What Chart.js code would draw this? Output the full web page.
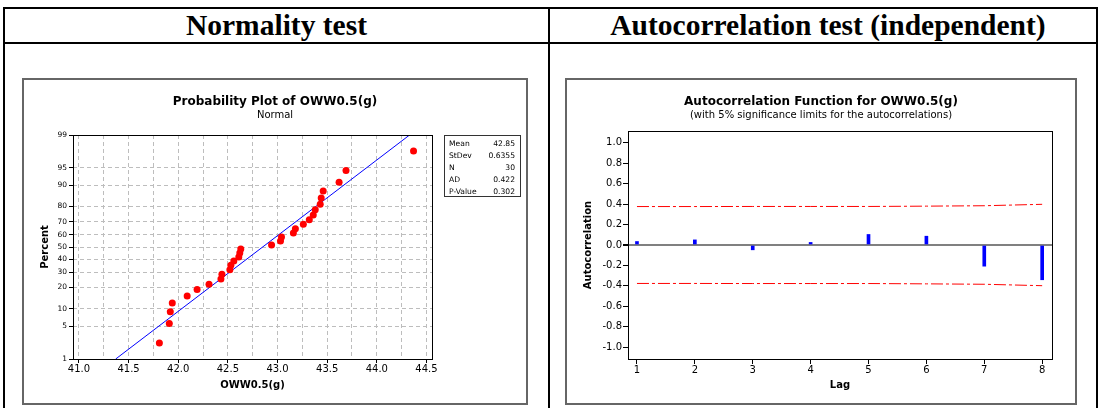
<!DOCTYPE html>
<html>
<head>
<meta charset="utf-8">
<script src="https://cdn.jsdelivr.net/npm/chart.js@4.4.1/dist/chart.umd.min.js"></script>
<style>
  html, body { margin: 0; padding: 0; background: #fff; }
  body { width: 1100px; height: 408px; position: relative; overflow: hidden; font-family: "DejaVu Sans", sans-serif; color: #000; }
  .hline { position: absolute; height: 2px; background: #000; }
  .vline { position: absolute; width: 2px; background: #000; }
  .head { position: absolute; top: 9px; height: 33px; line-height: 33px; text-align: center;
          font-family: "Liberation Serif", serif; font-weight: bold; font-size: 29.5px; }
  .frame { position: absolute; border: 2px solid #666; box-sizing: border-box; pointer-events: none; }
  canvas { position: absolute; }
  .ttl { position: absolute; text-align: center; font-weight: bold; font-size: 12px; line-height: 14px; white-space: nowrap; }
  .sub { position: absolute; text-align: center; font-size: 10px; line-height: 12px; white-space: nowrap; }
  #stats { position: absolute; left: 444px; top: 135px; width: 77px; height: 62px; border: 1px solid #333;
           box-sizing: border-box; font-size: 7.6px; padding: 2px 5px 0 4px; }
  #stats div { display: flex; justify-content: space-between; height: 12px; line-height: 12px; }
</style>
</head>
<body>
<!-- table lines -->
<div class="hline" style="left:3px; top:7px; width:1095px;"></div>
<div class="hline" style="left:3px; top:42px; width:1095px;"></div>
<div class="vline" style="left:3px; top:7px; height:401px;"></div>
<div class="vline" style="left:548px; top:7px; height:401px;"></div>
<div class="vline" style="left:1096px; top:7px; height:401px;"></div>

<div class="head" style="left:5px; width:543px;">Normality test</div>
<div class="head" style="left:550px; width:556px;">Autocorrelation test (independent)</div>

<canvas id="probChart" width="505" height="325" style="left:23px; top:79px;"></canvas>
<canvas id="acfChart" width="510" height="325" style="left:566px; top:79px;"></canvas>

<div class="frame" style="left:22px; top:78px; width:506px; height:327px;"></div>
<div class="frame" style="left:565px; top:78px; width:512px; height:327px;"></div>

<div class="ttl" style="left:22px; width:506px; top:94px;">Probability Plot of OWW0.5(g)</div>
<div class="sub" style="left:22px; width:506px; top:109px;">Normal</div>
<div class="ttl" style="left:565px; width:512px; top:94px;">Autocorrelation Function for OWW0.5(g)</div>
<div class="sub" style="left:565px; width:512px; top:109px;">(with 5% significance limits for the autocorrelations)</div>

<div id="stats"></div>

<script>
// probability plot data (sorted OWW0.5 values and their plotted percents)
const owwValues = [41.81, 41.91, 41.92, 41.94, 42.09, 42.19, 42.31, 42.43, 42.44, 42.52,
                   42.53, 42.56, 42.61, 42.62, 42.63, 42.94, 43.03, 43.04, 43.16, 43.18,
                   43.26, 43.32, 43.36, 43.38, 43.43, 43.44, 43.46, 43.62, 43.69, 44.37];
const percentValues = [2.3, 5.6, 8.9, 12.2, 15.5, 18.8, 22.0, 25.3, 28.6, 31.9,
                       35.2, 38.5, 41.8, 45.1, 48.4, 51.6, 54.9, 58.2, 61.5, 64.8,
                       68.1, 71.4, 74.7, 78.0, 81.3, 84.5, 87.8, 91.1, 94.4, 97.7];
const fitX = [41.37, 44.33];
const fitPercent = [1, 99];
const percentTicks = [1, 5, 10, 20, 30, 40, 50, 60, 70, 80, 90, 95, 99];
const xGridTicks = [41.0, 41.25, 41.5, 41.75, 42.0, 42.25, 42.5, 42.75, 43.0, 43.25, 43.5, 43.75, 44.0, 44.25, 44.5];
const statLabels = ['Mean', 'StDev', 'N', 'AD', 'P-Value'];
const statValues = ['42.85', '0.6355', '30', '0.422', '0.302'];

// autocorrelation data
const lags = [1, 2, 3, 4, 5, 6, 7, 8];
const acfValues = [0.034, 0.05, -0.047, 0.025, 0.103, 0.086, -0.207, -0.34];
const sigLimits = [0.376, 0.376, 0.377, 0.377, 0.377, 0.380, 0.384, 0.398];
const acfTicks = [-1.0, -0.8, -0.6, -0.4, -0.2, 0, 0.2, 0.4, 0.6, 0.8, 1.0];

// inverse normal cdf (Acklam) for the probability axis
function probit(p) {
    const a = [-3.969683028665376e+01, 2.209460984245205e+02, -2.759285104469687e+02, 1.383577518672690e+02, -3.066479806614716e+01, 2.506628277459239e+00];
    const b = [-5.447609879822406e+01, 1.615858368580409e+02, -1.556989798598866e+02, 6.680131188771972e+01, -1.328068155288572e+01];
    const c = [-7.784894002430293e-03, -3.223964580411365e-01, -2.400758277161838e+00, -2.549732539343734e+00, 4.374664141464968e+00, 2.938163982698783e+00];
    const d = [7.784695709041462e-03, 3.224671290700398e-01, 2.445134137142996e+00, 3.754408661907416e+00];
    const pl = 0.02425;
    let q, r;
    if (p < pl) {
        q = Math.sqrt(-2 * Math.log(p));
        return (((((c[0]*q+c[1])*q+c[2])*q+c[3])*q+c[4])*q+c[5]) / ((((d[0]*q+d[1])*q+d[2])*q+d[3])*q+1);
    }
    if (p > 1 - pl) {
        q = Math.sqrt(-2 * Math.log(1 - p));
        return -(((((c[0]*q+c[1])*q+c[2])*q+c[3])*q+c[4])*q+c[5]) / ((((d[0]*q+d[1])*q+d[2])*q+d[3])*q+1);
    }
    q = p - 0.5;
    r = q * q;
    return (((((a[0]*r+a[1])*r+a[2])*r+a[3])*r+a[4])*r+a[5])*q / (((((b[0]*r+b[1])*r+b[2])*r+b[3])*r+b[4])*r+1);
}

// stats box
const statsBox = document.getElementById('stats');
statLabels.forEach((lab, i) => {
    const row = document.createElement('div');
    row.innerHTML = '<span>' + lab + '</span><span>' + statValues[i] + '</span>';
    statsBox.appendChild(row);
});

// black box around the plot area
const plotFrame = {
    id: 'plotFrame',
    afterDraw(chart) {
        const { ctx, chartArea: a } = chart;
        ctx.save();
        ctx.strokeStyle = '#000';
        ctx.lineWidth = 1;
        ctx.strokeRect(Math.round(a.left) + 0.5, Math.round(a.top) + 0.5, Math.round(a.right - a.left), Math.round(a.bottom - a.top));
        ctx.restore();
    }
};

const tickFont = { family: 'DejaVu Sans', size: 10 };
const axisTitleFont = { family: 'DejaVu Sans', size: 10, weight: 'bold' };

new Chart(document.getElementById('probChart'), {
    type: 'scatter',
    data: {
        datasets: [{
            type: 'line',
            data: fitX.map((x, i) => ({ x: x, y: probit(fitPercent[i] / 100) })),
            borderColor: '#0000ff',
            borderWidth: 1,
            pointRadius: 0,
            fill: false,
            order: 2
        }, {
            data: owwValues.map((x, i) => ({ x: x, y: probit(percentValues[i] / 100) })),
            backgroundColor: '#ff0000',
            borderColor: '#ff0000',
            borderWidth: 0,
            pointRadius: 3.5,
            order: 1
        }]
    },
    options: {
        responsive: false,
        animation: false,
        events: [],
        layout: { padding: { top: 56, left: 0, right: 96, bottom: 13 } },
        plugins: { legend: { display: false }, tooltip: { enabled: false } },
        scales: {
            x: {
                type: 'linear',
                min: 40.94,
                max: 44.556,
                afterBuildTicks: s => { s.ticks = xGridTicks.map(v => ({ value: v })); },
                afterFit: s => { s.height = 32; },
                ticks: {
                    autoSkip: false, maxRotation: 0, padding: 0, color: '#000', font: tickFont,
                    callback: v => (Math.abs(v * 2 - Math.round(v * 2)) < 1e-6 ? v.toFixed(1) : '')
                },
                grid: {
                    color: '#bdbdbd', tickLength: 4,
                    tickColor: ctx => (ctx.tick && Math.abs(ctx.tick.value * 2 - Math.round(ctx.tick.value * 2)) < 1e-6 ? '#000' : 'rgba(0,0,0,0)')
                },
                border: { display: false, dash: [4, 3] },
                title: { display: true, text: 'OWW0.5(g)', color: '#000', font: axisTitleFont, padding: { top: 0, bottom: 0 } }
            },
            y: {
                type: 'linear',
                min: probit(0.01),
                max: probit(0.99),
                afterBuildTicks: s => { s.ticks = percentTicks.map(p => ({ value: probit(p / 100) })); },
                afterFit: s => { s.width = 50; },
                ticks: {
                    autoSkip: false, padding: 2, color: '#000', font: { family: 'DejaVu Sans', size: 7.5 },
                    callback: (v, i) => String(percentTicks[i])
                },
                grid: { color: '#bdbdbd', tickLength: 4, tickColor: '#000' },
                border: { display: false, dash: [4, 3] },
                title: { display: true, text: 'Percent', color: '#000', font: axisTitleFont, padding: { top: 16, bottom: 0 } }
            }
        }
    },
    plugins: [plotFrame]
});

new Chart(document.getElementById('acfChart'), {
    type: 'bar',
    data: {
        datasets: [{
            type: 'bar',
            data: lags.map((x, i) => ({ x: x, y: acfValues[i] })),
            backgroundColor: '#0000ff',
            barThickness: 3,
            order: 2
        }, {
            type: 'line',
            data: lags.map((x, i) => ({ x: x, y: sigLimits[i] })),
            borderColor: '#ff0000',
            borderWidth: 1,
            borderDash: [12, 3, 3, 3],
            pointRadius: 0,
            fill: false,
            order: 1
        }, {
            type: 'line',
            data: lags.map((x, i) => ({ x: x, y: -sigLimits[i] })),
            borderColor: '#ff0000',
            borderWidth: 1,
            borderDash: [12, 3, 3, 3],
            pointRadius: 0,
            fill: false,
            order: 1
        }]
    },
    options: {
        responsive: false,
        animation: false,
        events: [],
        layout: { padding: { top: 52, left: 0, right: 24, bottom: 13 } },
        plugins: { legend: { display: false }, tooltip: { enabled: false } },
        scales: {
            x: {
                type: 'linear',
                min: 0.845,
                max: 8.17,
                offset: false,
                afterBuildTicks: s => { s.ticks = lags.map(v => ({ value: v })); },
                afterFit: s => { s.height = 32; },
                ticks: { autoSkip: false, maxRotation: 0, padding: 0, color: '#000', font: tickFont, callback: v => String(v) },
                grid: { display: true, drawOnChartArea: false, offset: false, tickLength: 5, tickColor: '#000' },
                border: { display: false },
                title: { display: true, text: 'Lag', color: '#000', font: axisTitleFont, padding: { top: 0, bottom: 0 } }
            },
            y: {
                type: 'linear',
                min: -1.115,
                max: 1.115,
                afterBuildTicks: s => { s.ticks = acfTicks.map(v => ({ value: v })); },
                afterFit: s => { s.width = 62; },
                ticks: { autoSkip: false, padding: 1, color: '#000', font: tickFont, callback: v => v.toFixed(1) },
                grid: {
                    color: ctx => (ctx.tick && Math.abs(ctx.tick.value) < 1e-9 ? '#808080' : 'rgba(0,0,0,0)'),
                    lineWidth: ctx => (ctx.tick && Math.abs(ctx.tick.value) < 1e-9 ? 2 : 1),
                    tickColor: '#000', tickLength: 5
                },
                border: { display: false },
                title: { display: true, text: 'Autocorrelation', color: '#000', font: axisTitleFont, padding: { top: 16, bottom: 0 } }
            }
        }
    },
    plugins: [plotFrame]
});
</script>
</body>
</html>
